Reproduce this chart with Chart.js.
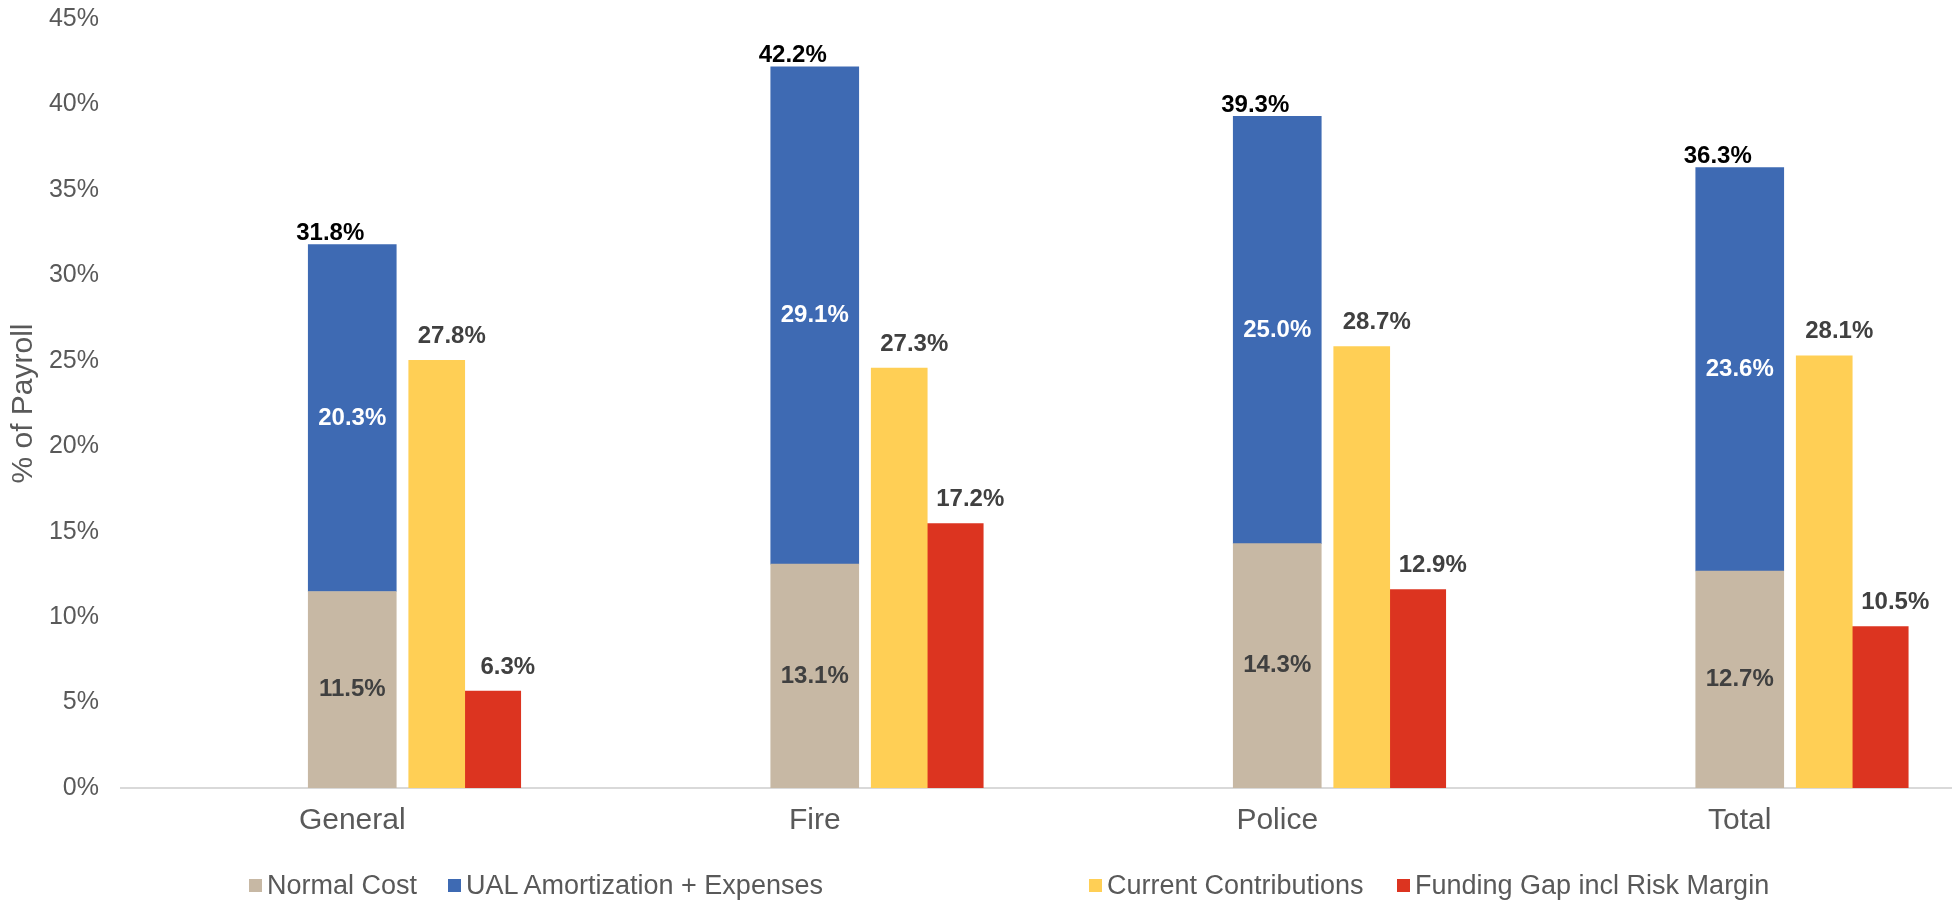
<!DOCTYPE html>
<html>
<head>
<meta charset="utf-8">
<script src="https://cdn.jsdelivr.net/npm/chart.js@4.4.0/dist/chart.umd.min.js"></script>
<style>
  html, body { margin: 0; padding: 0; background: #fff; overflow: hidden; }
  #wrap { position: absolute; left: 0; top: 0; width: 1972px; height: 900px; }
  #legend { position: absolute; left: 0; top: 0; width: 1952px; height: 900px; pointer-events: none;
            font-family: "Liberation Sans", Arial, sans-serif; font-size: 27px; color: #595959; }
  .item { position: absolute; top: 872px; white-space: nowrap; line-height: 27px; }
  .box { position: absolute; left: 0; top: 7px; width: 13px; height: 13px; }
  .txt { position: absolute; left: 18px; top: 0; }
</style>
</head>
<body>
<div id="wrap"><canvas id="myChart"></canvas></div>
<div id="legend"></div>
<script>
const categories = ["General", "Fire", "Police", "Total"];
const normal_cost = [11.5, 13.1, 14.3, 12.7];
const ual_amort = [20.3, 29.1, 25.0, 23.6];
const current_contrib = [27.8, 27.3, 28.7, 28.1];
const funding_gap = [6.3, 17.2, 12.9, 10.5];

const FONT = "'Liberation Sans', Arial, sans-serif";

// yellow / red bars sit on their own hidden axes (the original plots them on a secondary scale)
function onIndex(arr) {
  return arr.map((v, i) => ({ x: i, y: v }));
}

// draws the % labels on the bars
const barLabels = {
  id: "barLabels",
  afterDatasetsDraw(chart) {
    const c = chart.ctx;
    c.save();
    c.font = "bold 24px " + FONT;
    c.textBaseline = "middle";
    c.textAlign = "center";
    chart.data.datasets.forEach((ds, di) => {
      const meta = chart.getDatasetMeta(di);
      meta.data.forEach((bar, i) => {
        let v = ds.data[i];
        if (typeof v === "object") v = v.y;
        const txt = v.toFixed(1) + "%";
        if (ds.labelMode === "inside") {
          c.fillStyle = ds.labelColor;
          c.fillText(txt, bar.x, (bar.y + bar.base) / 2);
        } else {
          c.fillStyle = "#404040";
          c.fillText(txt, bar.x + 15, bar.y - 24);
        }
        if (ds.showTotal) {
          const tot = normal_cost[i] + ual_amort[i];
          c.fillStyle = "#000000";
          c.fillText(tot.toFixed(1) + "%", bar.x - 22, bar.y - 11);
        }
      });
    });
    c.restore();
  }
};

const ctx = document.getElementById("myChart").getContext("2d");

const myChart = new Chart(ctx, {
  type: "bar",
  data: {
    labels: categories,
    datasets: [
      {
        label: "Normal Cost",
        data: normal_cost,
        backgroundColor: "#C7B8A4",
        stack: "cost",
        grouped: false,
        xAxisID: "x",
        yAxisID: "y",
        barThickness: 88,
        labelMode: "inside",
        labelColor: "#404040",
      },
      {
        label: "UAL Amortization + Expenses",
        data: ual_amort,
        backgroundColor: "#3E6AB3",
        stack: "cost",
        grouped: false,
        xAxisID: "x",
        yAxisID: "y",
        barThickness: 88,
        labelMode: "inside",
        labelColor: "#ffffff",
        showTotal: true,
      },
      {
        label: "Current Contributions",
        data: onIndex(current_contrib),
        backgroundColor: "#FFCF55",
        xAxisID: "x2",
        yAxisID: "y2",
        barThickness: 56,
        labelMode: "above",
      },
      {
        label: "Funding Gap incl Risk Margin",
        data: onIndex(funding_gap),
        backgroundColor: "#DC3420",
        xAxisID: "x2",
        yAxisID: "y2",
        barThickness: 56,
        labelMode: "above",
      },
    ],
  },
  options: {
    responsive: true,
    maintainAspectRatio: false,
    animation: false,
    layout: { padding: { top: 19, right: 1, bottom: 0, left: 0 } },
    plugins: {
      legend: { display: false },
      tooltip: { enabled: false },
    },
    scales: {
      x: {
        type: "category",
        stacked: true,
        grid: { display: false, drawTicks: false },
        border: { display: true, color: "#D9D9D9", width: 2 },
        ticks: { color: "#595959", font: { size: 30, family: FONT }, padding: 15 },
        afterFit(scale) { scale.height = 112; },
      },
      x2: {
        type: "linear",
        display: false,
        stacked: false,
        offset: false,
        bounds: "data",
        min: -0.7432,
        max: 3.2568,
      },
      y: {
        stacked: true,
        min: 0,
        max: 45,
        grid: { display: false, drawTicks: false },
        border: { display: false },
        ticks: {
          stepSize: 5,
          color: "#595959",
          font: { size: 25, family: FONT },
          padding: 22,
          callback: (v) => v + "%",
        },
        title: {
          display: true,
          text: "% of Payroll",
          color: "#595959",
          font: { size: 30, family: FONT },
          padding: { top: 6, bottom: 0 },
        },
        afterFit(scale) {
          scale.width = 121;
          scale.paddingTop = 0;
          scale.paddingBottom = 0;
        },
      },
      y2: {
        display: false,
        stacked: false,
        min: 0,
        max: 50,
      },
    },
  },
  plugins: [barLabels],
});

// legend below the plot, laid out like the original (two pairs)
const legend_left = [249, 448, 1089, 1397];
const legendDiv = document.getElementById("legend");
myChart.data.datasets.forEach((ds, i) => {
  const item = document.createElement("div");
  item.className = "item";
  item.style.left = legend_left[i] + "px";
  const box = document.createElement("span");
  box.className = "box";
  box.style.background = ds.backgroundColor;
  const txt = document.createElement("span");
  txt.className = "txt";
  txt.textContent = ds.label;
  item.appendChild(box);
  item.appendChild(txt);
  legendDiv.appendChild(item);
});
</script>
</body>
</html>
